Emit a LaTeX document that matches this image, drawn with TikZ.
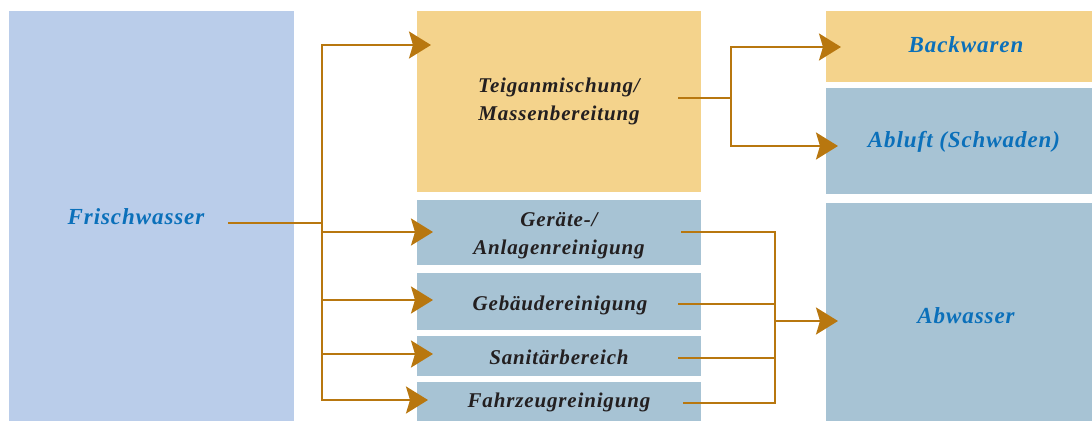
\documentclass[tikz,border=0pt]{standalone}
\usepackage{fontspec}
\setmainfont{Liberation Serif}
\newfontfamily\labfont[LetterSpace=4]{Liberation Serif}
\usetikzlibrary{arrows.meta}
\definecolor{freshc}{HTML}{BACDEA}
\definecolor{tanc}{HTML}{F4D38C}
\definecolor{greyc}{HTML}{A7C3D4}
\definecolor{arrc}{HTML}{B8770F}
\definecolor{bluetxt}{HTML}{0B70BA}
\definecolor{darktxt}{HTML}{231F20}
\begin{document}
\begin{tikzpicture}[x=1pt,y=-1pt,
  box/.style={fill=#1, draw=none, inner sep=0pt, outer sep=0pt, anchor=north west},
  lbl/.style={inner sep=0pt, anchor=base, align=center},
  bluelbl/.style={lbl, text=bluetxt, font=\labfont\bfseries\itshape\fontsize{23}{28}\selectfont},
  darklbl/.style={lbl, text=darktxt, font=\labfont\bfseries\itshape\fontsize{21}{28}\selectfont},
  conn/.style={draw=arrc, line width=2.5pt},
  arrconn/.style={conn, -{Stealth[length=22pt,width=27pt,inset=4pt]}}
]
\useasboundingbox (0,0) rectangle (1092,421);
% boxes
\node[box=freshc, minimum width=285, minimum height=410] (fw) at (9,11) {};
\node[box=tanc,  minimum width=284, minimum height=181] (teig) at (417,11) {};
\node[box=greyc, minimum width=284, minimum height=65] (geraete) at (417,200) {};
\node[box=greyc, minimum width=284, minimum height=57] (gebaeude) at (417,273) {};
\node[box=greyc, minimum width=284, minimum height=40] (sanitaer) at (417,336) {};
\node[box=greyc, minimum width=284, minimum height=39] (fahrzeug) at (417,382) {};
\node[box=tanc,  minimum width=266, minimum height=71] (backwaren) at (826,11) {};
\node[box=greyc, minimum width=266, minimum height=106] (abluft) at (826,88) {};
\node[box=greyc, minimum width=266, minimum height=218] (abwasser) at (826,203) {};
% labels (multi-line nodes: base = last line)
\node[bluelbl] (tfw) at (136,224) {Frischwasser};
\node[darklbl] (tteig) at (559,120) {Teiganmischung/\\Massenbereitung};
\node[darklbl] (tgeraete) at (559,254) {Geräte-/\\Anlagenreinigung};
\node[darklbl] (tgebaeude) at (560,310) {Gebäudereinigung};
\node[darklbl] (tsanitaer) at (559,364) {Sanitärbereich};
\node[darklbl] (tfahrzeug) at (559,407) {Fahrzeugreinigung};
\node[bluelbl] (tbackwaren) at (966,52) {Backwaren};
\node[bluelbl] (tabluft) at (964,147) {Abluft (Schwaden)};
\node[bluelbl] (tabwasser) at (966,323) {Abwasser};
% connector points
\coordinate (f0) at (228,223);
\coordinate (fj) at (322,223);
\coordinate (ta) at (431,45);
\coordinate (tb) at (433,232);
\coordinate (tc) at (433,300);
\coordinate (td) at (433,354);
\coordinate (te) at (428,400);
\coordinate (t0) at (678,98);
\coordinate (tj) at (731,98);
\coordinate (bw) at (841,47);
\coordinate (ab) at (838,146);
\coordinate (g1) at (681,232);
\coordinate (g2) at (678,304);
\coordinate (g3) at (678,358);
\coordinate (g4) at (683,403);
\coordinate (wj) at (775,321);
\coordinate (aw) at (838,321);
% connectors
\draw[conn] (f0) -- (fj);
\draw[arrconn] (fj) |- (ta);
\draw[arrconn] (fj) |- (tb);
\draw[arrconn] (fj) |- (tc);
\draw[arrconn] (fj) |- (td);
\draw[arrconn] (fj) |- (te);
\draw[conn] (t0) -- (tj);
\draw[arrconn] (tj) |- (bw);
\draw[arrconn] (tj) |- (ab);
\draw[conn] (g1) -| (wj);
\draw[conn] (g2) -| (wj);
\draw[conn] (g3) -| (wj);
\draw[conn] (g4) -| (wj);
\draw[arrconn] (wj) -- (aw);
\end{tikzpicture}
\end{document}
